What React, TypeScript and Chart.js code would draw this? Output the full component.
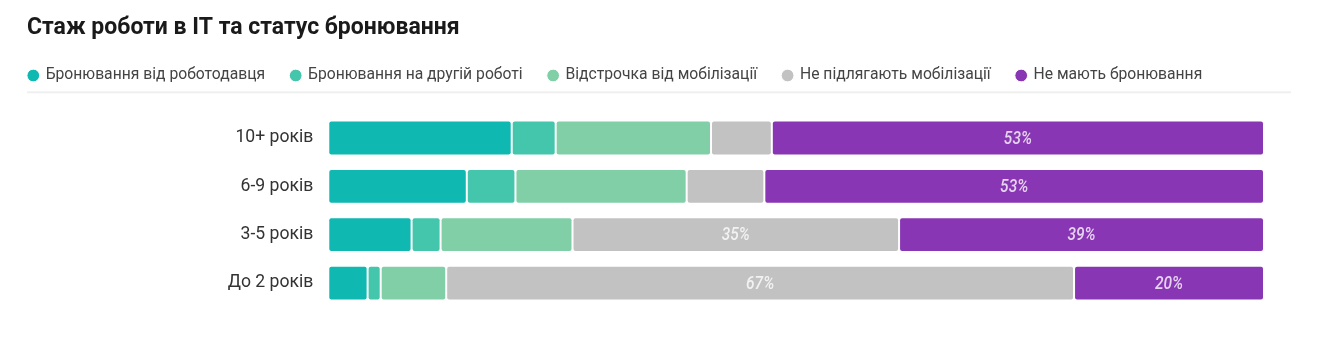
import React, { useEffect, useRef } from 'react';
import { Chart, registerables } from 'chart.js';

Chart.register(...registerables);

const chartTitle = 'Стаж роботи в IT та статус бронювання';
const categories = ['10+ років', '6-9 років', '3-5 років', 'До 2 років'];
const seriesNames = [
  'Бронювання від роботодавця',
  'Бронювання на другій роботі',
  'Відстрочка від мобілізації',
  'Не підлягають мобілізації',
  'Не мають бронювання',
];
const employerReserve = [19.6, 14.8, 8.9, 4.2];
const secondJobReserve = [4.7, 5.2, 3.1, 1.4];
const deferral = [16.6, 18.3, 14.1, 7.0];
const notSubject = [6.5, 8.3, 34.9, 67.1];
const noReserve = [52.6, 53.4, 39.0, 20.3];
const seriesValues = [employerReserve, secondJobReserve, deferral, notSubject, noReserve];
const seriesColors = ['#0fb8b1', '#44c6ad', '#80cfa6', '#c2c2c2', '#8936b4'];
const labelThreshold = 20;

const W = 1338;
const H = 351;
const LEGEND_FONT = 15.7;
const LEGEND_PAD = 26;
const PAD_LEFT = 33.3 - 4.5 - LEGEND_PAD;
const PAD_RIGHT = 74;
const PAD_TOP = 75.5 - LEGEND_PAD - LEGEND_FONT / 2;
const PAD_BOTTOM = 43.8;
const PLOT_LEFT = 328.3;
const LEGEND_EXTRA = 113.85 - (PAD_TOP + LEGEND_FONT + LEGEND_PAD + 10);

const decorPlugin = {
  id: 'decor',
  beforeInit(chart: any) {
    const legend = chart.legend;
    if (legend) {
      const origFit = legend.fit;
      legend.fit = function () {
        origFit.call(this);
        this.height += LEGEND_EXTRA;
      };
    }
  },
  afterDatasetsDraw(chart: any) {
    const ctx = chart.ctx;
    chart.data.datasets.forEach((ds: any, di: number) => {
      const meta = chart.getDatasetMeta(di);
      meta.data.forEach((el: any, i: number) => {
        const v = ds.data[i];
        if (v < labelThreshold) return;
        const { x, base, y } = el.getProps(['x', 'base', 'y'], true);
        ctx.save();
        ctx.translate((x + base) / 2, y + 1);
        ctx.scale(0.86, 1);
        ctx.font = 'italic 500 18px Roboto';
        ctx.fillStyle = 'rgba(255,255,255,0.78)';
        ctx.textAlign = 'center';
        ctx.textBaseline = 'middle';
        ctx.fillText(Math.round(v) + '%', 0, 0);
        ctx.restore();
      });
    });
  },
  afterDraw(chart: any) {
    const ctx = chart.ctx;
    ctx.save();
    ctx.font = 'bold 23px Roboto';
    ctx.fillStyle = '#1a1a1a';
    ctx.textAlign = 'left';
    ctx.textBaseline = 'alphabetic';
    ctx.fillText(chartTitle, 27, 33.5);
    ctx.fillStyle = '#efefef';
    ctx.fillRect(27, 91.3, 1264, 2);
    ctx.restore();
  },
};

export default function App() {
  const canvasRef = useRef<HTMLCanvasElement | null>(null);

  useEffect(() => {
    if (!canvasRef.current) return;
    const chart = new Chart(canvasRef.current, {
      type: 'bar',
      data: {
        labels: categories,
        datasets: seriesNames.map((name, i) => ({
          label: name,
          data: seriesValues[i],
          backgroundColor: seriesColors[i],
          borderColor: '#ffffff',
          borderWidth: 1,
          borderSkipped: false,
          borderRadius: { topLeft: 3, topRight: 3, bottomLeft: 3, bottomRight: 3 },
          categoryPercentage: 1,
          barPercentage: 0.72,
        })),
      },
      options: {
        indexAxis: 'y',
        responsive: false,
        animation: false,
        devicePixelRatio: 1,
        layout: {
          padding: { left: PAD_LEFT, right: PAD_RIGHT, top: PAD_TOP, bottom: PAD_BOTTOM },
        },
        scales: {
          x: {
            stacked: true,
            min: 0,
            max: 100,
            display: false,
          },
          y: {
            stacked: true,
            grid: { display: false, drawTicks: false },
            border: { display: false },
            ticks: {
              padding: 15,
              color: '#333333',
              font: { family: 'Roboto', size: 17.6 },
            },
            afterFit(scale: any) {
              scale.width = PLOT_LEFT - PAD_LEFT;
            },
          },
        },
        plugins: {
          title: { display: false },
          tooltip: { enabled: false },
          legend: {
            display: true,
            position: 'top',
            align: 'start',
            labels: {
              usePointStyle: true,
              pointStyle: 'circle',
              boxWidth: 9,
              boxHeight: 9,
              padding: LEGEND_PAD,
              color: '#444444',
              font: { family: 'Roboto', size: LEGEND_FONT },
            },
          },
        },
      },
      plugins: [decorPlugin],
    } as any);
    return () => chart.destroy();
  }, []);

  return (
    <div style={{ position: 'absolute', left: 0, top: 0, width: W, height: H, background: '#ffffff' }}>
      <canvas ref={canvasRef} width={W} height={H} style={{ display: 'block', width: W, height: H }} />
    </div>
  );
}
